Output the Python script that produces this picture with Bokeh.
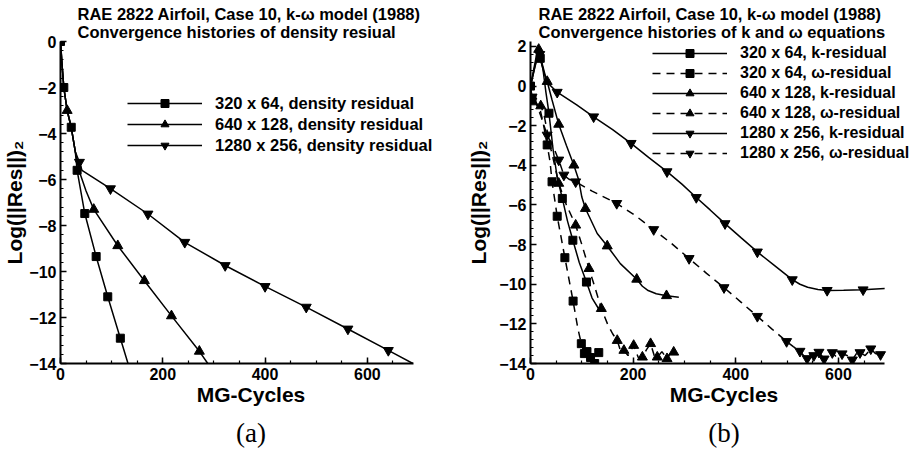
from bokeh.plotting import figure
from bokeh.layouts import row
from bokeh.models import Range1d, SingleIntervalTicker, Legend, LegendItem, Title
from bokeh.embed import file_html
from bokeh.resources import INLINE

FONT = "Liberation Sans"

# ---------------- Panel (a): density residual ----------------
a320_x = [0, 3, 6.5, 13, 21, 29, 32.5, 47.5, 69.7, 92.4, 117, 132]
a320_y = [0, -1.0, -2.0, -3.0, -3.73, -4.8, -5.6, -7.48, -9.35, -11.1, -12.9, -14.0]
a320_mx = [0, 6.5, 21, 32.5, 47.5, 69.7, 92.4, 117]
a320_my = [0, -2.0, -3.73, -5.6, -7.48, -9.35, -11.1, -12.9]

a640_x = [0, 3, 6.5, 13, 21, 29, 36, 50, 65, 112, 164, 217, 271.5, 288]
a640_y = [0, -1.0, -2.0, -3.0, -3.73, -4.8, -5.6, -6.5, -7.3, -8.88, -10.4, -11.93, -13.47, -14.0]
a640_mx = [13, 65, 112, 164, 217, 271.5]
a640_my = [-3.0, -7.3, -8.88, -10.4, -11.93, -13.47]

a1280_x = [0, 3, 6.5, 13, 21, 29, 37, 42, 97.7, 171, 243, 322, 400, 480.5, 562, 641, 689]
a1280_y = [0, -1.0, -2.0, -3.0, -3.73, -4.8, -5.25, -5.6, -6.4, -7.5, -8.73, -9.74, -10.65, -11.55, -12.5, -13.43, -14.0]
a1280_mx = [37, 97.7, 171, 243, 322, 400, 480.5, 562, 641]
a1280_my = [-5.25, -6.4, -7.5, -8.73, -9.74, -10.65, -11.55, -12.5, -13.43]

# ---------------- Panel (b): k and omega residuals ----------------
k320_x = [0, 8, 14, 19, 24, 30, 36, 44, 52, 62, 72, 82.5, 95, 109, 120, 133]
k320_y = [0, 0.9, 1.5, 1.4, 0.9, -0.3, -1.37, -3.2, -4.6, -5.67, -6.8, -7.78, -8.9, -9.89, -10.7, -11.25]
k320_mx = [0, 19, 36, 62, 82.5, 109]
k320_my = [0, 1.4, -1.37, -5.67, -7.78, -9.89]

w320_x = [0, 3, 10, 18, 25, 32.5, 38, 42, 52, 67, 83, 92, 99, 105, 110, 117, 121, 125, 129, 133]
w320_y = [0, -0.65, -0.8, -1.1, -1.9, -2.97, -3.8, -4.83, -6.57, -8.66, -10.85, -12.2, -13.0, -13.5, -13.4, -13.7, -13.5, -14.0, -13.7, -13.45]
w320_mx = [3, 32.5, 42, 52, 67, 83, 99, 105, 110, 117, 125, 133]
w320_my = [-0.65, -2.97, -4.83, -6.57, -8.66, -10.85, -13.0, -13.5, -13.4, -13.7, -14.0, -13.45]

k640_x = [0, 6, 12, 16, 20, 26, 32.5, 42, 55, 70, 84.5, 94, 100, 107, 130, 149.5, 175, 207, 218, 228, 245, 265, 289]
k640_y = [0, 0.8, 1.6, 1.85, 1.3, 0.7, 0.23, -0.7, -1.93, -3.0, -3.99, -4.74, -5.6, -6.18, -7.44, -8.07, -8.96, -9.75, -10.1, -10.3, -10.48, -10.58, -10.66]
k640_mx = [16, 32.5, 55, 84.5, 107, 149.5, 207, 265]
k640_my = [1.85, 0.23, -1.93, -3.99, -6.18, -8.07, -9.75, -10.58]

w640_x = [0, 3, 8, 14, 20, 26, 32, 40, 48, 55, 70, 88, 100, 114, 126, 138, 150, 160, 169, 176, 182, 190, 201, 210, 218, 226, 234, 241, 247, 256, 266, 272, 279, 285]
w640_y = [0, -0.8, -0.7, -0.6, -1.0, -1.4, -2.2, -3.2, -4.1, -4.91, -6.0, -7.02, -8.0, -9.21, -10.2, -11.23, -12.0, -12.5, -12.84, -13.4, -13.34, -13.6, -13.09, -13.7, -13.68, -13.3, -13.0, -13.6, -13.68, -13.4, -13.76, -13.5, -13.43, -13.5]
w640_mx = [3, 20, 55, 88, 114, 138, 169, 182, 201, 218, 234, 247, 266, 279]
w640_my = [-0.8, -1.0, -4.91, -7.02, -9.21, -11.23, -12.84, -13.34, -13.09, -13.68, -13.0, -13.68, -13.76, -13.43]

k1280_x = [0, 6, 12, 18, 24, 32, 52, 90, 123, 160, 196, 230, 266, 295, 323, 350, 379, 410, 442, 475, 510, 525, 540, 560, 578, 610, 648, 690]
k1280_y = [0, 0.7, 1.4, 1.6, 1.0, 0.2, -0.31, -0.95, -1.55, -2.2, -2.89, -3.6, -4.32, -4.95, -5.62, -6.25, -6.94, -7.65, -8.37, -9.05, -9.77, -10.0, -10.15, -10.27, -10.31, -10.3, -10.28, -10.22]
k1280_mx = [18, 52, 123, 196, 266, 323, 379, 442, 510, 578, 648]
k1280_my = [1.6, -0.31, -1.55, -2.89, -4.32, -5.62, -6.94, -8.37, -9.77, -10.31, -10.28]

w1280_x = [0, 3, 10, 20, 32.5, 45, 55, 65, 75, 88, 120, 168, 205, 240, 275, 309, 343, 377, 410, 442, 470, 499, 512, 525, 532, 539, 546, 552, 562, 572, 580, 588, 597, 607, 617, 627, 635, 642, 652, 663, 672, 682, 690]
w1280_y = [0, -0.55, -0.8, -1.5, -2.47, -3.1, -3.73, -4.49, -4.7, -4.83, -5.3, -5.92, -6.55, -7.24, -7.95, -8.7, -9.45, -10.17, -10.9, -11.62, -12.25, -12.89, -13.15, -13.38, -13.6, -13.75, -13.5, -13.6, -13.43, -13.77, -13.55, -13.45, -13.7, -13.51, -13.6, -13.82, -13.5, -13.45, -13.6, -13.26, -13.5, -13.55, -13.45]
w1280_mx = [3, 32.5, 55, 65, 88, 168, 240, 309, 377, 442, 499, 525, 539, 552, 562, 572, 588, 607, 627, 642, 663, 682]
w1280_my = [-0.55, -2.47, -3.73, -4.49, -4.83, -5.92, -7.24, -8.7, -10.17, -11.62, -12.89, -13.38, -13.75, -13.6, -13.43, -13.77, -13.45, -13.51, -13.82, -13.45, -13.26, -13.55]

title_a = "RAE 2822 Airfoil, Case 10, k-\u03c9 model (1988)\nConvergence histories of density resiual"
title_b = "RAE 2822 Airfoil, Case 10, k-\u03c9 model (1988)\nConvergence histories of k and \u03c9 equations"
labels_a = ["320 x 64, density residual", "640 x 128, density residual", "1280 x 256, density residual"]
labels_b = ["320 x 64, k-residual", "320 x 64, \u03c9-residual", "640 x 128, k-residual",
            "640 x 128, \u03c9-residual", "1280 x 256, k-residual", "1280 x 256, \u03c9-residual"]

MSIZE = {"square": 8, "triangle": 10, "inverted_triangle": 10}


def make_fig(width, left, right, xend, yr, ttl, toff, caption, ystand):
    # x range reaches past the axis end (690) so the legend text, which sits
    # partly right of the axis, is not clipped; the axis itself stops at 690.
    p = figure(width=width, height=455, x_range=Range1d(0, xend), y_range=Range1d(*yr),
               output_backend="svg", toolbar_location=None, title=None,
               min_border_left=left, min_border_right=right,
               min_border_top=41, min_border_bottom=92)
    p.outline_line_color = None
    p.grid.visible = False
    p.xaxis.ticker = SingleIntervalTicker(interval=200, num_minor_ticks=4)
    p.xaxis.bounds = (0, 690)
    p.yaxis.ticker = SingleIntervalTicker(interval=2, num_minor_ticks=5)
    for ax in p.axis:
        ax.axis_line_width = 2
        ax.major_tick_in = 6
        ax.major_tick_out = 0
        ax.minor_tick_in = 3
        ax.minor_tick_out = 0
        ax.major_tick_line_width = 1.5
        ax.minor_tick_line_width = 1.2
        ax.major_label_text_font = FONT
        ax.major_label_text_font_style = "bold"
        ax.major_label_text_font_size = "16px"
        ax.major_label_text_color = "black"
        ax.axis_label_text_font = FONT
        ax.axis_label_text_font_style = "bold"
        ax.axis_label_text_font_size = "21px"
        ax.axis_label_text_color = "black"
    p.xaxis.axis_label = "MG-Cycles"
    p.xaxis.major_label_standoff = 4
    p.xaxis.axis_label_standoff = 0
    p.yaxis.axis_label = "Log(||Res||)\u2082"
    p.yaxis.major_label_standoff = 4
    p.yaxis.axis_label_standoff = ystand
    p.add_layout(Title(text=ttl, align="left", offset=toff, text_font=FONT,
                       text_font_size="16.5px", text_font_style="bold", text_color="black",
                       text_line_height=1.0, standoff=2), "above")
    p.add_layout(Title(text=caption, align="center", text_font="Liberation Serif",
                       text_font_size="27px", text_font_style="normal", text_color="black",
                       standoff=14), "below")
    return p


def series(p, lx, ly, mx, my, marker, dash):
    l = p.line(lx, ly, line_color="black", line_width=1.5, line_dash=dash)
    s = p.scatter(mx, my, marker=marker, size=MSIZE[marker], color="black")
    return [l, s]


def legend(p, items, loc, spacing, fsize):
    lg = Legend(items=items, location=loc, glyph_width=75, glyph_height=20, label_height=20,
                label_width=170, label_standoff=13, spacing=spacing, padding=0, margin=0,
                border_line_color=None, background_fill_alpha=0,
                label_text_font=FONT, label_text_font_style="bold", label_text_color="black",
                label_text_font_size=fsize, label_text_baseline="middle")
    p.add_layout(lg)


pa = make_fig(460, 60, 19, 745, (-14, 0), title_a, 17, "(a)", 0)
ra1 = series(pa, a320_x, a320_y, a320_mx, a320_my, "square", "solid")
ra2 = series(pa, a640_x, a640_y, a640_mx, a640_my, "triangle", "solid")
ra3 = series(pa, a1280_x, a1280_y, a1280_mx, a1280_my, "inverted_triangle", "solid")
legend(pa, [LegendItem(label=labels_a[0], renderers=ra1),
            LegendItem(label=labels_a[1], renderers=ra2),
            LegendItem(label=labels_a[2], renderers=ra3)], (67, 208), 1, "16.5px")

pb = make_fig(461, 70, 4, 754, (-14, 2.25), title_b, 8, "(b)", 6)
rb1 = series(pb, k320_x, k320_y, k320_mx, k320_my, "square", "solid")
rb2 = series(pb, w320_x, w320_y, w320_mx, w320_my, "square", "8 6")
rb3 = series(pb, k640_x, k640_y, k640_mx, k640_my, "triangle", "solid")
rb4 = series(pb, w640_x, w640_y, w640_mx, w640_my, "triangle", "8 6")
rb5 = series(pb, k1280_x, k1280_y, k1280_mx, k1280_my, "inverted_triangle", "solid")
rb6 = series(pb, w1280_x, w1280_y, w1280_mx, w1280_my, "inverted_triangle", "8 6")
legend(pb, [LegendItem(label=labels_b[i], renderers=r) for i, r in
            enumerate([rb1, rb2, rb3, rb4, rb5, rb6])], (122, 200), 0, "16px")

layout = row(pa, pb)
open("out.html", "w").write(file_html(layout, INLINE))
